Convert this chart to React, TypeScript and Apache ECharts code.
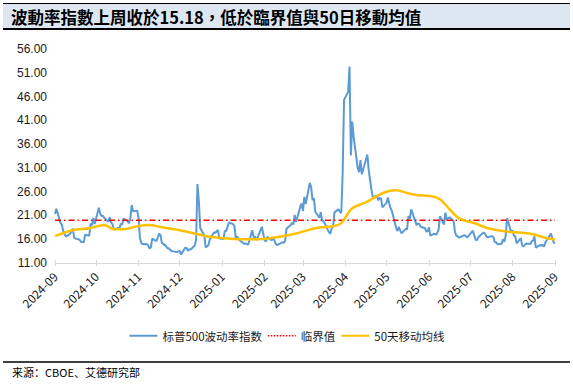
import React, { useEffect, useRef } from 'react';
import * as echarts from 'echarts';

const titleText = '波動率指數上周收於15.18，低於臨界值與50日移動均值';
const sourceText = '来源：CBOE、艾德研究部';
const seriesNames = ['标普500波动率指数', '临界值', '50天移动均线'];

const vixDates = [
  '2024-09-05', '2024-09-06', '2024-09-09', '2024-09-10', '2024-09-11', '2024-09-12', '2024-09-13', '2024-09-16', '2024-09-17', '2024-09-18', '2024-09-19', '2024-09-20', '2024-09-23', '2024-09-24', '2024-09-25', '2024-09-26', '2024-09-27', '2024-09-30',
  '2024-10-01', '2024-10-02', '2024-10-03', '2024-10-04', '2024-10-07', '2024-10-08', '2024-10-09', '2024-10-10', '2024-10-11', '2024-10-14', '2024-10-15', '2024-10-16', '2024-10-17', '2024-10-18', '2024-10-21', '2024-10-22', '2024-10-23', '2024-10-24', '2024-10-25', '2024-10-28', '2024-10-29', '2024-10-30', '2024-10-31',
  '2024-11-01', '2024-11-04', '2024-11-05', '2024-11-06', '2024-11-07', '2024-11-08', '2024-11-11', '2024-11-12', '2024-11-13', '2024-11-14', '2024-11-15', '2024-11-18', '2024-11-19', '2024-11-20', '2024-11-21', '2024-11-22', '2024-11-25', '2024-11-26', '2024-11-27', '2024-11-29',
  '2024-12-02', '2024-12-03', '2024-12-04', '2024-12-05', '2024-12-06', '2024-12-09', '2024-12-10', '2024-12-11', '2024-12-12', '2024-12-13', '2024-12-16', '2024-12-17', '2024-12-18', '2024-12-19', '2024-12-20', '2024-12-23', '2024-12-24', '2024-12-26', '2024-12-27', '2024-12-30', '2024-12-31',
  '2025-01-02', '2025-01-03', '2025-01-06', '2025-01-07', '2025-01-08', '2025-01-10', '2025-01-13', '2025-01-14', '2025-01-15', '2025-01-16', '2025-01-17', '2025-01-21', '2025-01-22', '2025-01-23', '2025-01-24', '2025-01-27', '2025-01-28', '2025-01-29', '2025-01-30', '2025-01-31',
  '2025-02-03', '2025-02-04', '2025-02-05', '2025-02-06', '2025-02-07', '2025-02-10', '2025-02-11', '2025-02-12', '2025-02-13', '2025-02-14', '2025-02-18', '2025-02-19', '2025-02-20', '2025-02-21', '2025-02-24', '2025-02-25', '2025-02-26', '2025-02-27', '2025-02-28',
  '2025-03-03', '2025-03-04', '2025-03-05', '2025-03-06', '2025-03-07', '2025-03-10', '2025-03-11', '2025-03-12', '2025-03-13', '2025-03-14', '2025-03-17', '2025-03-18', '2025-03-19', '2025-03-20', '2025-03-21', '2025-03-24', '2025-03-25', '2025-03-26', '2025-03-27', '2025-03-28', '2025-03-31',
  '2025-04-01', '2025-04-02', '2025-04-03', '2025-04-04', '2025-04-07', '2025-04-08', '2025-04-09', '2025-04-10', '2025-04-11', '2025-04-14', '2025-04-15', '2025-04-16', '2025-04-17', '2025-04-21', '2025-04-22', '2025-04-23', '2025-04-24', '2025-04-25', '2025-04-28', '2025-04-29', '2025-04-30',
  '2025-05-01', '2025-05-02', '2025-05-05', '2025-05-06', '2025-05-07', '2025-05-08', '2025-05-09', '2025-05-12', '2025-05-13', '2025-05-14', '2025-05-15', '2025-05-16', '2025-05-19', '2025-05-20', '2025-05-21', '2025-05-22', '2025-05-23', '2025-05-27', '2025-05-28', '2025-05-29', '2025-05-30',
  '2025-06-02', '2025-06-03', '2025-06-04', '2025-06-05', '2025-06-06', '2025-06-09', '2025-06-10', '2025-06-11', '2025-06-12', '2025-06-13', '2025-06-16', '2025-06-17', '2025-06-18', '2025-06-20', '2025-06-23', '2025-06-24', '2025-06-25', '2025-06-26', '2025-06-27', '2025-06-30',
  '2025-07-01', '2025-07-02', '2025-07-03', '2025-07-07', '2025-07-08', '2025-07-09', '2025-07-10', '2025-07-11', '2025-07-14', '2025-07-15', '2025-07-16', '2025-07-17', '2025-07-18', '2025-07-21', '2025-07-22', '2025-07-23', '2025-07-24', '2025-07-25', '2025-07-28', '2025-07-29', '2025-07-30', '2025-07-31',
  '2025-08-01', '2025-08-04', '2025-08-05', '2025-08-06', '2025-08-07', '2025-08-08', '2025-08-11', '2025-08-12', '2025-08-13', '2025-08-14', '2025-08-15', '2025-08-18', '2025-08-19', '2025-08-20', '2025-08-21', '2025-08-22', '2025-08-25', '2025-08-26', '2025-08-27', '2025-08-28', '2025-08-29',
  '2025-09-02', '2025-09-03', '2025-09-04', '2025-09-05',
];

const vixValues = [
  21.3, 22.38, 19.45, 19.08, 17.69, 17.07, 16.56, 17.14, 17.61, 18.23, 16.33, 16.15, 15.89, 15.39, 15.41, 15.37, 16.96, 16.73,
  19.26, 18.9, 20.49, 19.21, 22.64, 21.42, 20.86, 20.93, 20.46, 19.7, 20.64, 19.58, 19.11, 18.03, 18.37, 18.2, 19.24, 19.08, 20.33, 19.8, 19.34, 20.35, 23.16,
  21.88, 21.98, 20.49, 16.27, 15.2, 14.94, 14.97, 14.71, 14.02, 14.31, 16.14, 15.58, 16.35, 17.16, 16.87, 15.24, 14.6, 14.1, 14.1, 13.51,
  13.34, 13.3, 13.45, 13.54, 12.77, 14.19, 14.18, 13.58, 13.92, 13.81, 14.69, 15.87, 27.62, 24.09, 18.36, 16.78, 14.27, 14.73, 15.95, 17.4, 17.35,
  17.93, 16.13, 16.04, 17.82, 17.7, 19.54, 19.19, 18.71, 16.12, 16.6, 15.97, 15.06, 15.1, 15.02, 14.85, 17.9, 16.41, 16.56, 15.84, 16.43,
  18.62, 17.21, 15.77, 15.5, 16.54, 15.81, 16.02, 15.89, 15.1, 14.77, 15.35, 15.27, 15.66, 18.21, 18.98, 19.43, 19.1, 21.13, 19.63,
  22.78, 23.51, 21.93, 24.87, 23.37, 27.86, 26.92, 24.23, 24.66, 21.77, 20.51, 21.7, 19.9, 19.8, 19.28, 17.48, 17.15, 18.33, 18.69, 21.65, 22.28,
  21.77, 21.51, 30.02, 45.31, 46.98, 52.33, 33.62, 40.72, 37.56, 30.89, 30.12, 32.64, 29.65, 33.82, 30.57, 28.45, 26.47, 24.84, 25.15, 24.17, 24.7,
  24.6, 22.68, 23.64, 24.76, 23.55, 22.48, 21.9, 18.39, 17.72, 18.62, 17.83, 17.24, 18.14, 18.09, 20.87, 20.28, 22.29, 18.96, 19.31, 19.18, 18.57,
  18.36, 17.69, 17.61, 18.48, 16.77, 17.16, 16.95, 17.26, 18.02, 20.82, 19.11, 21.6, 20.14, 20.62, 19.83, 17.48, 16.76, 16.59, 16.32, 16.73,
  16.83, 16.64, 16.38, 17.79, 16.81, 15.94, 15.78, 16.4, 17.2, 17.38, 17.16, 16.52, 16.41, 16.65, 16.5, 15.37, 15.39, 14.93, 15.03, 15.98, 15.48, 16.72,
  20.38, 17.52, 17.85, 16.77, 16.57, 15.15, 16.25, 14.73, 14.49, 14.83, 15.09, 14.99, 15.57, 15.69, 16.6, 14.22, 14.79, 14.62, 14.85, 14.43, 15.36,
  17.17, 16.35, 15.3, 15.18,
];

const maDates = [
  '2024-09-05', '2024-09-18', '2024-09-30', '2024-10-11', '2024-10-18', '2024-10-25', '2024-11-05', '2024-11-13', '2024-11-22', '2024-12-05',
  '2024-12-19', '2024-12-27', '2025-01-17', '2025-01-31', '2025-02-14', '2025-02-28', '2025-03-14', '2025-03-28', '2025-04-02', '2025-04-10',
  '2025-04-21', '2025-04-30', '2025-05-05', '2025-05-12', '2025-05-19', '2025-05-27', '2025-06-06', '2025-06-13', '2025-06-20', '2025-06-27',
  '2025-07-09', '2025-07-18', '2025-08-01', '2025-08-19', '2025-08-29', '2025-09-05',
];
const maValues = [
  16.7, 17.9, 18.3, 19.0, 18.1, 18.1, 18.8, 19.0, 18.5, 17.9,
  17.0, 16.5, 16.0, 16.0, 16.4, 17.2, 18.3, 18.8, 19.4, 22.5,
  23.9, 25.4, 26.0, 26.3, 25.8, 25.3, 25.1, 24.4, 22.3, 20.4,
  19.3, 18.3, 17.6, 17.1, 16.3, 15.9,
];

const thresholdValue = 20;
const yTicks = [11, 16, 21, 26, 31, 36, 41, 46, 51, 56];
const xTickDates = [
  '2024-09-05', '2024-10-05', '2024-11-05', '2024-12-05', '2025-01-05', '2025-02-05', '2025-03-05',
  '2025-04-05', '2025-05-05', '2025-06-05', '2025-07-05', '2025-08-05', '2025-09-05',
];
const axisStart = '2024-09-05';
const axisEnd = '2025-09-05';

const ts = (s: string) => {
  const [y, m, d] = s.split('-').map(Number);
  return new Date(y, m - 1, d).getTime();
};
const fmtMonth = (v: number) => {
  const d = new Date(v);
  return `${d.getFullYear()}-${String(d.getMonth() + 1).padStart(2, '0')}`;
};

const FONT = '"Noto Sans CJK SC", "Liberation Sans", sans-serif';

export default function App() {
  const ref = useRef<HTMLDivElement>(null);
  useEffect(() => {
    if (!ref.current) return;
    const chart = echarts.init(ref.current, undefined, { renderer: 'svg' });
    const xTicks = xTickDates.map(ts);
    const axisCommon = {
      type: 'value' as const,
      min: ts(axisStart),
      max: ts(axisEnd),
      splitLine: { show: false },
    };
    chart.setOption({
      animation: false,
      backgroundColor: '#ffffff',
      textStyle: { fontFamily: FONT },
      grid: { left: 55, right: 18, top: 49, bottom: 121 },
      legend: {
        top: 325,
        left: 'center',
        itemWidth: 28,
        itemHeight: 10,
        itemGap: 5,
        itemStyle: { opacity: 0, borderWidth: 0 },
        textStyle: { fontSize: 11.5, color: '#1a1a1a', fontFamily: FONT },
        data: [
          { name: seriesNames[0] },
          { name: seriesNames[1], lineStyle: { type: [1.5, 1.5], width: 1.5 } },
          { name: seriesNames[2] },
        ],
      },
      xAxis: [
        {
          ...axisCommon,
          axisLine: { show: true, lineStyle: { color: '#d9d9d9', width: 1 } },
          axisTick: { show: true, length: 3, customValues: xTicks, lineStyle: { color: '#d9d9d9' } },
          axisLabel: {
            customValues: xTicks,
            rotate: 45,
            margin: 11,
            fontSize: 12,
            color: '#1a1a1a',
            fontFamily: FONT,
            formatter: (v: number) => fmtMonth(v),
          },
        },
        {
          ...axisCommon,
          gridIndex: 0,
          position: 'bottom',
          axisLine: { show: false },
          axisTick: { show: true, inside: true, length: 3, customValues: xTicks, lineStyle: { color: '#d9d9d9' } },
          axisLabel: { show: false },
        },
      ],
      yAxis: {
        type: 'value',
        min: 11,
        max: 56,
        axisLine: { show: false },
        axisTick: { show: false },
        splitLine: { show: false },
        axisLabel: {
          customValues: yTicks,
          margin: 8,
          fontSize: 12,
          color: '#1a1a1a',
          fontFamily: '"Liberation Sans", Arial, sans-serif',
          formatter: (v: number) => v.toFixed(2),
        },
      },
      series: [
        {
          name: seriesNames[0],
          type: 'line',
          symbol: 'none',
          showSymbol: false,
          lineStyle: { color: '#5B9BD5', width: 2 },
          itemStyle: { color: '#5B9BD5' },
          data: vixDates.map((d, i) => [ts(d), vixValues[i]]),
        },
        {
          name: seriesNames[1],
          type: 'line',
          symbol: 'none',
          showSymbol: false,
          lineStyle: { color: '#FF0000', width: 1.5, type: [6, 3, 1.5, 3] },
          itemStyle: { color: '#FF0000' },
          data: [
            [ts(axisStart), thresholdValue],
            [ts(axisEnd), thresholdValue],
          ],
        },
        {
          name: seriesNames[2],
          type: 'line',
          symbol: 'none',
          showSymbol: false,
          smooth: 0.3,
          lineStyle: { color: '#FFC000', width: 2.5 },
          itemStyle: { color: '#FFC000' },
          data: maDates.map((d, i) => [ts(d), maValues[i]]),
        },
      ],
      graphic: [
        { type: 'rect', shape: { x: 3, y: 3, width: 567, height: 25 }, style: { fill: '#DDE7F2' }, silent: true },
        { type: 'line', shape: { x1: 3, y1: 3.5, x2: 570, y2: 3.5 }, style: { stroke: '#000', lineWidth: 1 }, silent: true },
        { type: 'line', shape: { x1: 3, y1: 29, x2: 570, y2: 29 }, style: { stroke: '#000', lineWidth: 2 }, silent: true },
        {
          type: 'text',
          x: 11,
          y: 16.5,
          silent: true,
          style: {
            text: titleText,
            fontSize: 16.5,
            fontWeight: 'bold',
            fontFamily: '"Noto Sans CJK TC", sans-serif',
            fill: '#000',
            verticalAlign: 'middle',
          },
        },
        { type: 'line', shape: { x1: 3, y1: 362, x2: 570, y2: 362 }, style: { stroke: '#000', lineWidth: 1.3 }, silent: true },
        {
          type: 'text',
          x: 12,
          y: 372,
          silent: true,
          style: {
            text: sourceText,
            fontSize: 11,
            fontFamily: '"Noto Sans CJK SC", sans-serif',
            fill: '#000',
            verticalAlign: 'middle',
          },
        },
      ],
    });
    return () => chart.dispose();
  }, []);
  return (
    <div style={{ position: 'fixed', left: 0, top: 0, width: 573, height: 384, background: '#fff' }}>
      <div ref={ref} style={{ width: 573, height: 384 }} />
    </div>
  );
}
